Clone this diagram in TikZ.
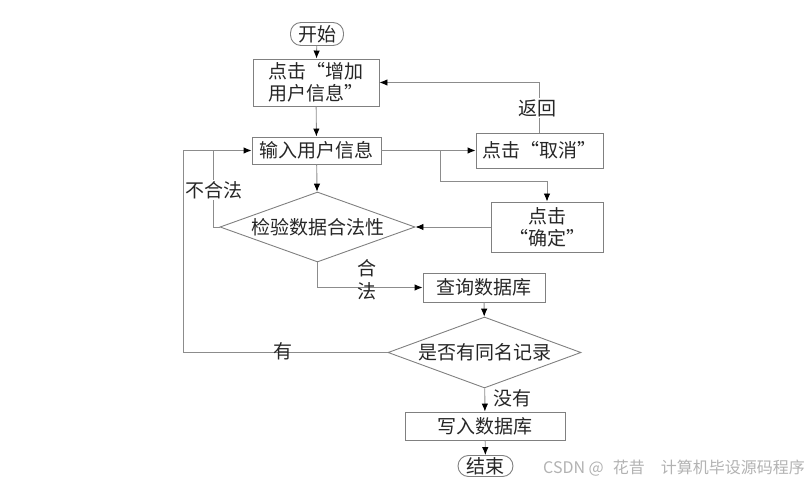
\documentclass[tikz,border=0pt]{standalone}
\usepackage{fontspec}
\usepackage{tikz}
\usetikzlibrary{arrows.meta,shapes.geometric}
\setmainfont{Noto Sans CJK SC}

\begin{document}
\begin{tikzpicture}[x=1pt,y=-1pt,
        every node/.style={font=\fontsize{19}{22}\selectfont, text=black!85, inner sep=0pt},
        box/.style={draw=black!50, line width=0.9pt, rectangle, align=center},
        term/.style={draw=black!50, line width=0.9pt, rectangle, rounded corners=10.5pt},
        test/.style={draw=black!50, line width=0.9pt, diamond, aspect=2.75},
        link/.style={draw=black!45, line width=0.9pt},
        arrow/.style={link, -{Latex[length=8pt,width=6.5pt,color=black]}},
        note/.style={align=center}]
        \useasboundingbox (0,0) rectangle (809,486);

        \node[term, minimum width=53, minimum height=23] (start) at (317,34) {开始};
        \node[box, minimum width=126, minimum height=47] (add) at (316,82.5) {点击“增加\\用户信息”};
        \node[box, minimum width=129, minimum height=27] (input) at (316.5,150.5) {输入用户信息};
        \node[test, minimum width=195, minimum height=70] (check) at (317.5,227) {检验数据合法性};
        \node[box, minimum width=127, minimum height=35] (cancel) at (539.5,150.5) {点击“取消”};
        \node[box, minimum width=112, minimum height=50] (confirm) at (547,227) {点击\\“确定”};
        \node[box, minimum width=122, minimum height=29] (query) at (484,287.5) {查询数据库};
        \node[test, minimum width=193, minimum height=71] (dup) at (484.5,352.5) {是否有同名记录};
        \node[box, minimum width=160, minimum height=28] (write) at (485,426) {写入数据库};
        \node[term, minimum width=55, minimum height=21] (end) at (485.5,466) {结束};

        \coordinate (split) at (440,150.5);
        \coordinate (turn) at (440,181);
        \coordinate (merge) at (213,150.5);
        \coordinate (loop) at (183,150.5);

        % main line
        \draw[arrow] (start) -- (add);
        \draw[arrow] (add) -- (input);
        \draw[arrow] (input) -- (check);
        \draw[arrow] (check.south) |- (query.west);
        \draw[arrow] (query) -- (dup);
        \draw[arrow] (dup) -- (write);
        \draw[arrow] (write) -- (end);

        % side branches
        \draw[arrow] (input.east) -- (cancel.west);
        \draw[arrow] (split) -- (turn) -| (confirm.north);
        \draw[arrow] (confirm.west) -- (check.east);
        \draw[arrow] (cancel.north) |- (add.east);
        \draw[link] (check.west) -| (merge);
        \draw[arrow] (dup.west) -| (loop) -- (input.west);

        \node[note, fill=white, inner sep=1pt] (back) at (537,108) {返回};
        \node[note, fill=white, inner sep=1pt] (bad) at (214,190) {不合法};
        \node[note, font=\fontsize{19}{23}\selectfont] (good) at (367,280) {合\\法};
        \node[note] (yes) at (283,351) {有};
        \node[note] (no) at (512,398) {没有};

        \node[text=black!30, font=\fontsize{16}{18}\selectfont] (mark) at (674,468) {CSDN @\,\, 花昔\quad 计算机毕设源码程序};
\end{tikzpicture}
\end{document}
